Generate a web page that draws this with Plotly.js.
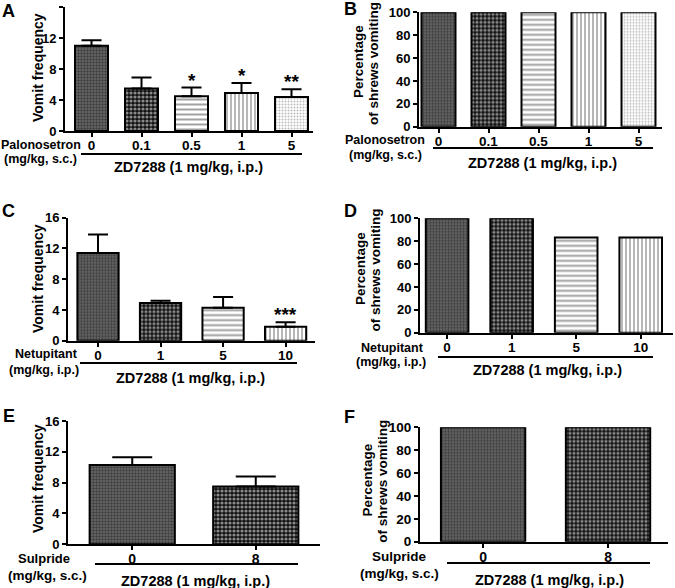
<!DOCTYPE html>
<html>
<head>
<meta charset="utf-8">
<script src="https://cdn.plot.ly/plotly-3.0.1.min.js"></script>
<style>html,body{margin:0;padding:0;background:#fff;}#chart{width:675px;height:588px;}
#chart text{font-weight:700 !important;}</style>
</head>
<body>
<div id="chart"></div>
<script>
// ---------- data ----------
const palonoDoses = ['0', '0.1', '0.5', '1', '5'];
const palonoFreq  = [11.0, 5.5, 4.5, 4.9, 4.4];
const palonoSem   = [0.7, 1.4, 1.1, 1.3, 1.0];
const palonoPct   = [100, 100, 100, 100, 100];
const palonoSig   = ['', '', '*', '*', '**'];

const netuDoses = ['0', '1', '5', '10'];
const netuFreq  = [11.4, 4.9, 4.3, 1.8];
const netuSem   = [2.4, 0.3, 1.4, 0.6];
const netuPct   = [100, 100, 83.3, 83.3];
const netuSig   = ['', '', '', '***'];

const sulDoses = ['0', '8'];
const sulFreq  = [10.3, 7.5];
const sulSem   = [1.0, 1.3];
const sulPct   = [100, 100];

const freqTitle = 'Vomit frequency';
const pctTitle1 = 'Percentage';
const pctTitle2 = 'of shrews vomiting';
const zdLabel   = 'ZD7288 (1 mg/kg, i.p.)';

// ---------- styles ----------
const W = 675, H = 588;
const FONT = 'Liberation Sans, Arial, Helvetica, sans-serif';
const px = x => x / W;
const py = y => 1 - y / H;

const PAT = {
  shape:    ['.', '.', '-', '|', '.'],
  fgcolor:  ['#111', '#fff', '#444', '#333', '#777'],
  bgcolor:  ['#6a6a6a', '#111', '#fff', '#fff', '#fff'],
  size:     [3, 4, 5, 4, 3],
  solidity: [0.5, 0.5, 0.4, 0.35, 0.35]
};
function patternIdx(idx) {
  return {
    shape: idx.map(i => PAT.shape[i]), fgcolor: idx.map(i => PAT.fgcolor[i]),
    bgcolor: idx.map(i => PAT.bgcolor[i]), size: idx.map(i => PAT.size[i]),
    solidity: idx.map(i => PAT.solidity[i]), fillmode: 'overlay'
  };
}

function barTrace(x, y, sem, ax, w, pat, capW) {
  const t = {
    type: 'bar', x: x, y: y, xaxis: 'x' + ax, yaxis: 'y' + ax, width: w,
    marker: { color: '#fff', line: { color: '#000', width: 2 }, pattern: pat },
    showlegend: false, hoverinfo: 'skip'
  };
  if (sem) {
    t.error_y = { type: 'data', symmetric: false, array: sem, arrayminus: sem.map(() => 0),
      color: '#000', thickness: 2, width: capW, visible: true };
  }
  return t;
}

const traces = [
  barTrace(palonoDoses, palonoFreq, palonoSem, '', 0.66, patternIdx([0, 1, 2, 3, 4]), 10),
  barTrace(palonoDoses, palonoPct, null, '2', 0.68, patternIdx([0, 1, 2, 3, 4])),
  barTrace(netuDoses, netuFreq, netuSem, '3', 0.66, patternIdx([0, 1, 2, 3]), 10),
  barTrace(netuDoses, netuPct, null, '4', 0.66, patternIdx([0, 1, 2, 3])),
  barTrace(sulDoses, sulFreq, sulSem, '5', 0.69, patternIdx([0, 1]), 20),
  barTrace(sulDoses, sulPct, null, '6', 0.675, patternIdx([0, 1]))
];

function xax(l, r, range, fs, anchor) {
  return {
    domain: [px(l), px(r)], anchor: anchor, type: 'category', range: range,
    showline: true, linewidth: 2, linecolor: '#000', mirror: false,
    ticks: 'outside', ticklen: 4, tickwidth: 2, tickcolor: '#000', ticklabelstandoff: -3,
    showgrid: false, zeroline: false, automargin: false, fixedrange: true,
    tickfont: { family: FONT, size: fs, color: '#000', weight: 700 }
  };
}
function yax(top, bottom, max, dtick, fs, anchor) {
  return {
    domain: [py(bottom), py(top)], anchor: anchor, range: [0, max], tick0: 0, dtick: dtick,
    showline: true, linewidth: 2, linecolor: '#000',
    ticks: 'outside', ticklen: 4, tickwidth: 2, tickcolor: '#000',
    showgrid: false, zeroline: false, automargin: false, fixedrange: true,
    tickfont: { family: FONT, size: fs, color: '#000', weight: 700 }
  };
}

const ann = [];
const shapes = [];
function txt(text, x, y, size, angle) {
  ann.push({ text: text, x: px(x), y: py(y), xref: 'paper', yref: 'paper',
    xanchor: 'center', yanchor: 'middle', showarrow: false, textangle: angle || 0,
    font: { family: FONT, size: size, color: '#000', weight: 700 } });
}
function hline(x0, x1, y) {
  shapes.push({ type: 'line', xref: 'paper', yref: 'paper', x0: px(x0), x1: px(x1),
    y0: py(y), y1: py(y), line: { color: '#000', width: 2 } });
}
function stars(vals, sem, sig, ax) {
  vals.forEach((v, i) => {
    if (!sig[i]) return;
    ann.push({ text: sig[i], x: i, y: v + sem[i], xref: 'x' + ax, yref: 'y' + ax,
      xanchor: 'center', yanchor: 'bottom', showarrow: false, yshift: -5,
      font: { family: FONT, size: 19, color: '#000', weight: 700 } });
  });
}

// Panel letters
txt('A', 8.5, 11.5, 18); txt('B', 350, 8.5, 18);
txt('C', 8.5, 210.5, 18); txt('D', 350, 210.5, 18);
txt('E', 8.5, 416, 18); txt('F', 349, 417, 18);

// Y titles
txt(freqTitle, 38, 68, 14, -90);
txt(pctTitle1, 358, 62, 13.5, -90); txt(pctTitle2, 373, 64, 13.5, -90);
txt(freqTitle, 38, 279, 14, -90);
txt(pctTitle1, 360, 269, 13.5, -90); txt(pctTitle2, 375, 270.5, 13.5, -90);
txt(freqTitle, 38, 479, 14, -90);
txt(pctTitle1, 367, 480.5, 13.5, -90); txt(pctTitle2, 383, 480.7, 13.5, -90);

// Panel A
txt('Palonosetron', 40.5, 145, 12.5); txt('(mg/kg, s.c.)', 40, 159, 12.5);
hline(81, 302, 154); txt(zdLabel, 188, 167, 14.5);
stars(palonoFreq, palonoSem, palonoSig, '');
// Panel B
txt('Palonosetron', 385, 140.5, 12.5); txt('(mg/kg, s.c.)', 385, 155, 12.5);
hline(433, 653, 148); txt(zdLabel, 542, 163, 14.5);
// Panel C
txt('Netupitant', 46.5, 354, 12.5); txt('(mg/kg, i.p.)', 44, 369.5, 12.5);
hline(80, 297, 363); txt(zdLabel, 190, 378, 14.5);
stars(netuFreq, netuSem, netuSig, '3');
// Panel D
txt('Netupitant', 392, 347.5, 12.5); txt('(mg/kg, i.p.)', 391, 362, 12.5);
hline(438, 653, 357); txt(zdLabel, 547, 369.5, 14.5);
// Panel E
txt('Sulpride', 44, 558, 13); txt('(mg/kg, s.c.)', 47.5, 575, 13.5);
hline(95, 298, 564); txt(zdLabel, 195.5, 581, 14.5);
// Panel F
txt('Sulpride', 399, 556.5, 13.5); txt('(mg/kg, s.c.)', 399, 573.5, 13.5);
hline(447, 650, 563); txt(zdLabel, 549, 579.5, 14.5);

const layout = {
  width: W, height: H, margin: { l: 0, r: 0, t: 0, b: 0 },
  paper_bgcolor: '#fff', plot_bgcolor: 'rgba(0,0,0,0)', showlegend: false,
  xaxis:  xax(65, 313, [-0.53, 4.43], 13.5, 'y'),
  yaxis:  yax(7, 131, 16, 4, 13, 'x'),
  xaxis2: xax(419, 662, [-0.39, 4.47], 13.5, 'y2'),
  yaxis2: yax(12.3, 126.7, 100, 20, 13, 'x2'),
  xaxis3: xax(68, 315, [-0.48, 3.47], 13.5, 'y3'),
  yaxis3: yax(217.7, 340.7, 16, 4, 13, 'x3'),
  xaxis4: xax(420, 673, [-0.42, 3.5], 13.5, 'y4'),
  yaxis4: yax(218.3, 332.7, 100, 20, 13, 'x4'),
  xaxis5: xax(68, 320, [-0.52, 1.52], 14, 'y5'),
  yaxis5: yax(421, 544.3, 16, 4, 13, 'x5'),
  xaxis6: xax(420, 668, [-0.505, 1.48], 14, 'y6'),
  yaxis6: yax(427.3, 541.7, 100, 20, 13.5, 'x6'),
  annotations: ann, shapes: shapes
};

Plotly.newPlot('chart', traces, layout, { staticPlot: true, displayModeBar: false });
</script>
</body>
</html>
